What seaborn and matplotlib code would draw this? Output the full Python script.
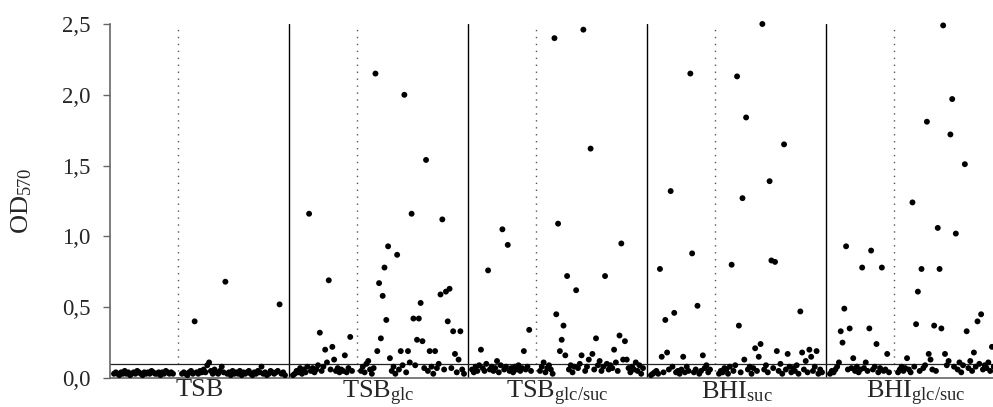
# Biofilm OD570 per isolate, five growth media, two isolate groups per medium
import numpy as np
import pandas as pd
import matplotlib
matplotlib.use("Agg")
import matplotlib.pyplot as plt
import seaborn as sns

# ---------------------------------------------------------------------------
# Data
# ---------------------------------------------------------------------------

media = ["TSB", "TSBglc", "TSBglc/suc", "BHIsuc", "BHIglc/suc"]
media_labels = [
    "TSB",
    r"TSB$_{\mathrm{glc}}$",
    r"TSB$_{\mathrm{glc/suc}}$",
    r"BHI$_{\mathrm{suc}}$",
    r"BHI$_{\mathrm{glc/suc}}$",
]

cutoff = 0.1

# group A = isolates left of the dotted line, group B = right of it
tsb_a = [0.03, 0.04, 0.03, 0.02, 0.04, 0.03, 0.05, 0.03, 0.04, 0.02, 0.03, 0.04,
         0.03, 0.05, 0.04, 0.03, 0.02, 0.04, 0.03, 0.04, 0.03, 0.05, 0.04, 0.03,
         0.03, 0.04, 0.02, 0.04, 0.03, 0.05, 0.04, 0.03, 0.04, 0.03]
tsb_b = [0.03, 0.04, 0.03, 0.02, 0.04, 0.05, 0.03, 0.40, 0.04, 0.03, 0.05, 0.04,
         0.06, 0.04, 0.09, 0.11, 0.05, 0.03, 0.06, 0.04, 0.03, 0.05, 0.08, 0.04,
         0.68, 0.03, 0.04, 0.02, 0.05, 0.03, 0.04, 0.03, 0.05, 0.02, 0.04, 0.03,
         0.04, 0.05, 0.03, 0.02, 0.04, 0.03, 0.05, 0.04, 0.08, 0.03, 0.04, 0.02,
         0.03, 0.05, 0.04, 0.03, 0.04, 0.05, 0.52, 0.03, 0.04, 0.02]

tsbglc_a = [0.02, 0.03, 0.05, 0.04, 0.07, 0.03, 0.06, 0.04, 0.08, 1.16, 0.05, 0.07,
            0.04, 0.06, 0.09, 0.32, 0.05, 0.08, 0.20, 0.11, 0.69, 0.06, 0.22, 0.13,
            0.05, 0.07, 0.04, 0.06, 0.05, 0.16, 0.04, 0.07, 0.29, 0.05]
tsbglc_b = [0.05, 0.08, 0.04, 0.10, 0.12, 0.06, 0.03, 0.07, 2.15, 0.19, 0.67, 0.28,
            0.58, 0.78, 0.41, 0.93, 0.14, 0.05, 0.08, 0.03, 0.87, 0.06, 0.19, 0.09,
            2.00, 0.04, 0.19, 0.11, 1.16, 0.42, 0.09, 0.27, 0.42, 0.53, 0.26, 0.07,
            1.54, 0.05, 0.19, 0.08, 0.03, 0.19, 0.07, 0.10, 0.59, 1.12, 0.06, 0.61,
            0.40, 0.63, 0.07, 0.33, 0.17, 0.04, 0.13, 0.33, 0.06, 0.03]

tsbglcsuc_a = [0.06, 0.04, 0.08, 0.05, 0.09, 0.20, 0.07, 0.05, 0.10, 0.76, 0.06, 0.08,
               0.05, 0.07, 0.12, 0.04, 0.09, 1.05, 0.06, 0.08, 0.94, 0.05, 0.07, 0.04,
               0.08, 0.06, 0.09, 0.05, 0.07, 0.19, 0.06, 0.08, 0.34, 0.05]
tsbglcsuc_b = [0.05, 0.08, 0.11, 0.04, 0.07, 0.09, 0.06, 0.03, 2.40, 0.45, 1.09, 0.19,
               0.27, 0.37, 0.16, 0.72, 0.06, 0.09, 0.04, 0.08, 0.62, 0.07, 0.10, 0.16,
               2.46, 0.05, 0.08, 0.13, 1.62, 0.17, 0.06, 0.28, 0.09, 0.12, 0.05, 0.08,
               0.72, 0.10, 0.06, 0.09, 0.07, 0.20, 0.11, 0.05, 0.30, 0.95, 0.13, 0.26,
               0.13, 0.07, 0.04, 0.08, 0.06, 0.11, 0.05, 0.09, 0.03, 0.07]

bhisuc_a = [0.02, 0.03, 0.04, 0.05, 0.03, 0.77, 0.15, 0.04, 0.41, 0.18, 0.06, 1.32,
            0.08, 0.46, 0.04, 0.05, 0.03, 0.06, 0.15, 0.04, 0.08, 0.05, 2.15, 0.88,
            0.04, 0.06, 0.51, 0.03, 0.05, 0.16, 0.07, 0.09, 0.04, 0.06]
bhisuc_b = [0.03, 0.05, 0.04, 0.07, 0.06, 0.03, 0.08, 0.80, 0.05, 0.09, 2.13, 0.37,
            0.04, 1.27, 0.13, 1.84, 0.06, 0.08, 0.03, 0.07, 0.21, 0.05, 0.15, 0.24,
            2.50, 0.06, 0.09, 0.04, 1.39, 0.83, 0.07, 0.82, 0.19, 0.05, 0.10, 0.03,
            1.65, 0.06, 0.17, 0.08, 0.04, 0.07, 0.05, 0.09, 0.03, 0.47, 0.18, 0.06,
            0.12, 0.04, 0.20, 0.15, 0.05, 0.08, 0.19, 0.03, 0.06, 0.04]

bhiglcsuc_a = [0.03, 0.05, 0.04, 0.06, 0.08, 0.11, 0.33, 0.25, 0.49, 0.93, 0.06, 0.35,
               0.07, 0.14, 0.05, 0.08, 0.04, 0.06, 0.78, 0.07, 0.11, 0.05, 0.35, 0.90,
               0.06, 0.08, 0.24, 0.04, 0.07, 0.78, 0.05, 0.06, 0.17, 0.04]
bhiglcsuc_b = [0.04, 0.06, 0.08, 0.05, 0.07, 0.14, 0.06, 0.04, 1.24, 0.08, 0.38, 0.61,
               0.05, 0.77, 0.07, 0.09, 1.81, 0.17, 0.13, 0.06, 0.37, 0.05, 1.06, 0.77,
               0.35, 2.49, 0.17, 0.09, 0.12, 1.72, 1.97, 0.08, 1.02, 0.06, 0.11, 0.04,
               0.09, 1.51, 0.33, 0.07, 0.12, 0.05, 0.18, 0.08, 0.40, 0.10, 0.45, 0.06,
               0.09, 0.07, 0.11, 0.05, 0.22, 0.08, 0.04, 0.10, 0.06, 0.07]

groups_a = [tsb_a, tsbglc_a, tsbglcsuc_a, bhisuc_a, bhiglcsuc_a]
groups_b = [tsb_b, tsbglc_b, tsbglcsuc_b, bhisuc_b, bhiglcsuc_b]

# ---------------------------------------------------------------------------
# Layout: each medium gets one panel of equal width on a shared x axis
# ---------------------------------------------------------------------------

PANEL_W = 179.0
A_SPAN = (4.0, 63.0)
DIVIDER = 68.0
B_SPAN = (72.0, 175.0)

rows = []
for k, medium in enumerate(media):
    off = k * PANEL_W
    xa = off + np.linspace(*A_SPAN, len(groups_a[k]))
    xb = off + np.linspace(*B_SPAN, len(groups_b[k]))
    for x, v in zip(xa, groups_a[k]):
        rows.append((medium, "A", x, v))
    for x, v in zip(xb, groups_b[k]):
        rows.append((medium, "B", x, v))
df = pd.DataFrame(rows, columns=["medium", "group", "pos", "od"])

sns.set_style("white")
plt.rcParams["font.family"] = ["Liberation Serif", "DejaVu Serif"]
plt.rcParams["mathtext.fontset"] = "custom"
plt.rcParams["mathtext.rm"] = "Liberation Serif"
plt.rcParams["mathtext.it"] = "Liberation Serif:italic"

W, H = 993, 407
fig = plt.figure(figsize=(W / 100, H / 100), dpi=100)
ax = fig.add_axes([110 / W, 1 - 378 / H, 5 * PANEL_W / W, 354 / H])

sns.scatterplot(data=df, x="pos", y="od", color="black", s=18,
                edgecolor="none", linewidth=0, ax=ax, legend=False,
                clip_on=False, zorder=3)

# Panel separators, in-panel group dividers and the cut-off line
for k in range(len(media)):
    if k > 0:
        ax.axvline(k * PANEL_W, color="black", lw=1.0, zorder=2)
    ax.axvline(k * PANEL_W + DIVIDER, color="#555555", lw=1.0,
               linestyle=(0, (1, 4)), zorder=1)
ax.axhline(cutoff, color="#222222", lw=0.9, zorder=2)

ax.set_xlim(0, 5 * PANEL_W)
ax.set_ylim(0, 2.5)

yt = [0.0, 0.5, 1.0, 1.5, 2.0, 2.5]
ax.set_yticks(yt)
ax.set_yticklabels([f"{t:.1f}".replace(".", ",") for t in yt], fontsize=16.5)
ax.set_xticks([k * PANEL_W + PANEL_W / 2 for k in range(len(media))])
ax.set_xticklabels(media_labels, fontsize=19)
ax.tick_params(axis="x", length=0, pad=1)
ax.tick_params(axis="y", length=5, width=1, color="#666666", pad=9, left=True)

ax.set_xlabel("")
ax.set_ylabel(r"OD$_{570}$", fontsize=19, labelpad=20)

for side in ["top", "right"]:
    ax.spines[side].set_visible(False)
for side in ["left", "bottom"]:
    ax.spines[side].set_color("#666666")
    ax.spines[side].set_linewidth(1.2)

fig.savefig("out.png", dpi=100)
plt.close(fig)
